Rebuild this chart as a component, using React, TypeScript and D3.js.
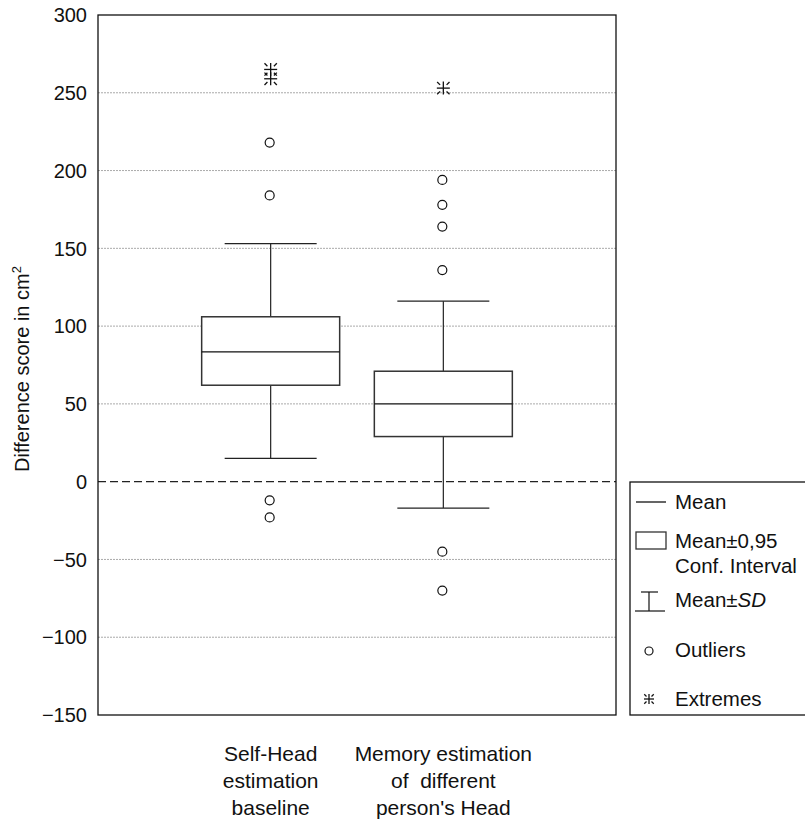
import React from "react";
import * as d3 from "d3";

const categories = ["Self-Head|estimation|baseline", "Memory estimation|of  different|person's Head"];
const means = [83.5, 50];
const ciLow = [62, 29];
const ciHigh = [106, 71];
const sdLow = [15, -17];
const sdHigh = [153, 116];
const outliers = [[218, 184, -12, -23], [194, 178, 164, 136, -45, -70]];
const extremes = [[265, 259], [253]];
const yTicks = [300, 250, 200, 150, 100, 50, 0, -50, -100, -150];

const W = 805, H = 819;
const left = 98, right = 616, top = 15, bottom = 715;
const FONT = "'Liberation Sans', Arial, Helvetica, sans-serif";

function Extreme({ x, y, s = 6 }: { x: number; y: number; s?: number }) {
  const d = s * 0.5, e = s * 0.95;
  return (
    <g stroke="#111" strokeWidth={1.3}>
      <line x1={x} x2={x} y1={y - s} y2={y + s} />
      <line x1={x - s} x2={x + s} y1={y} y2={y} />
      <line x1={x - d} x2={x - e} y1={y - d} y2={y - e} />
      <line x1={x + d} x2={x + e} y1={y - d} y2={y - e} />
      <line x1={x - d} x2={x - e} y1={y + d} y2={y + e} />
      <line x1={x + d} x2={x + e} y1={y + d} y2={y + e} />
    </g>
  );
}

const fmt = (t: number) => (t < 0 ? "\u2212" + Math.abs(t) : String(t));

export default function App() {
  const y = d3.scaleLinear().domain([-150, 300]).range([bottom, top]);
  const x = d3.scalePoint<string>().domain(categories).range([left, right]).padding(1);
  const boxW = 138, capW = 92;
  const grid = yTicks.filter((t) => t !== 300 && t !== -150 && t !== 0);

  return (
    <svg width={W} height={H} style={{ position: "absolute", left: 0, top: 0 }} fontFamily={FONT}>
      <rect width={W} height={H} fill="#fff" />
      {grid.map((t) => (
        <line key={t} x1={left} x2={right} y1={y(t)} y2={y(t)} stroke="#aaa" strokeWidth={1} strokeDasharray="2,1" />
      ))}
      <line x1={left} x2={right} y1={y(0)} y2={y(0)} stroke="#222" strokeWidth={1.2} strokeDasharray="8,4" />
      {yTicks.map((t) => (
        <text key={t} x={87} y={y(t) + 7.2} textAnchor="end" fontSize={20} fill="#111">
          {fmt(t)}
        </text>
      ))}
      <text transform={`translate(29,369) rotate(-90)`} textAnchor="middle" fontSize={20} fill="#111">
        Difference score in cm<tspan dy={-8} fontSize={13}>2</tspan>
      </text>
      {categories.map((c, i) => {
        const cx = x(c)!;
        return (
          <g key={c}>
            <line x1={cx} x2={cx} y1={y(sdHigh[i])} y2={y(ciHigh[i])} stroke="#222" strokeWidth={1.2} />
            <line x1={cx} x2={cx} y1={y(ciLow[i])} y2={y(sdLow[i])} stroke="#222" strokeWidth={1.2} />
            <line x1={cx - capW / 2} x2={cx + capW / 2} y1={y(sdHigh[i])} y2={y(sdHigh[i])} stroke="#222" strokeWidth={1.2} />
            <line x1={cx - capW / 2} x2={cx + capW / 2} y1={y(sdLow[i])} y2={y(sdLow[i])} stroke="#222" strokeWidth={1.2} />
            <rect x={cx - boxW / 2} y={y(ciHigh[i])} width={boxW} height={y(ciLow[i]) - y(ciHigh[i])} fill="#fff" stroke="#333" strokeWidth={1.5} />
            <line x1={cx - boxW / 2} x2={cx + boxW / 2} y1={y(means[i])} y2={y(means[i])} stroke="#111" strokeWidth={1.3} />
            {outliers[i].map((v, j) => (
              <circle key={j} cx={cx - 1} cy={y(v)} r={4.5} fill="none" stroke="#111" strokeWidth={1.2} />
            ))}
            {extremes[i].map((v, j) => (
              <Extreme key={j} x={cx} y={y(v)} s={6.5} />
            ))}
            {c.split("|").map((ln, k) => (
              <text key={k} x={cx} y={761 + k * 27} textAnchor="middle" fontSize={21} fill="#111" style={{ whiteSpace: "pre" }}>
                {ln}
              </text>
            ))}
          </g>
        );
      })}
      <rect x={left} y={top} width={right - left} height={bottom - top} fill="none" stroke="#111" strokeWidth={1.3} />
      {/* legend */}
      <g fontSize={20.5} fill="#111">
        <rect x={630} y={482} width={180} height={233} fill="#fff" stroke="#111" strokeWidth={1.3} />
        <line x1={636} x2={666} y1={502} y2={502} stroke="#111" strokeWidth={1.3} />
        <text x={675} y={509}>Mean</text>
        <rect x={636} y={532} width={30} height={17} fill="#fff" stroke="#333" strokeWidth={1.3} />
        <text x={675} y={548}>Mean±0,95</text>
        <text x={675} y={573}>Conf. Interval</text>
        <line x1={641} x2={658} y1={592} y2={592} stroke="#111" strokeWidth={1.2} />
        <line x1={649} x2={649} y1={592} y2={611} stroke="#111" strokeWidth={1.2} />
        <line x1={635} x2={665} y1={611} y2={611} stroke="#111" strokeWidth={1.2} />
        <text x={675} y={607}>
          Mean±<tspan fontStyle="italic">SD</tspan>
        </text>
        <circle cx={649} cy={651} r={4} fill="none" stroke="#111" strokeWidth={1.2} />
        <text x={675} y={657}>Outliers</text>
        <Extreme x={649} y={699} s={5} />
        <text x={675} y={706}>Extremes</text>
      </g>
    </svg>
  );
}
